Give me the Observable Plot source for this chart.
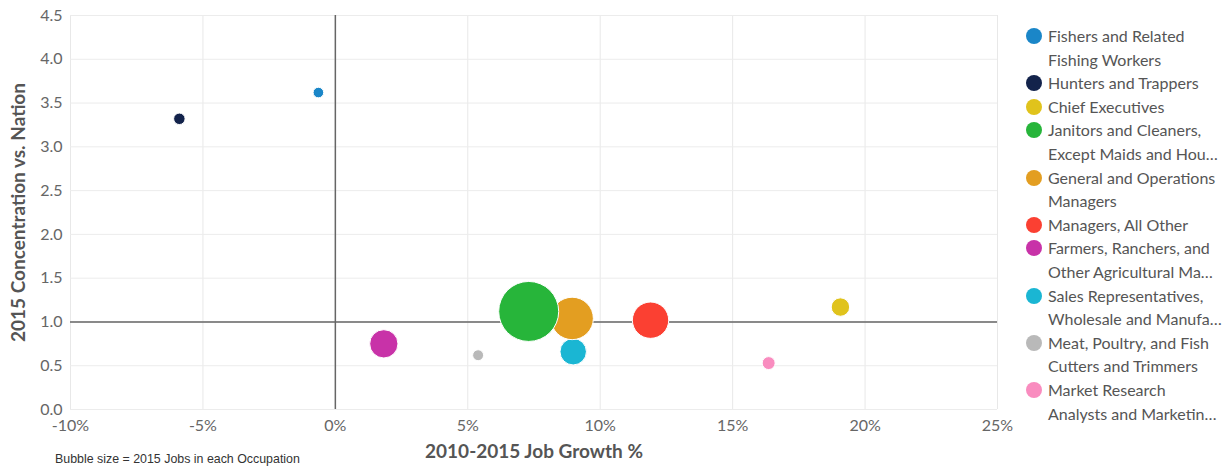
<!DOCTYPE html>
<html>
<head>
<meta charset="utf-8">
<script src="https://cdn.jsdelivr.net/npm/d3@7"></script>
<script src="https://cdn.jsdelivr.net/npm/@observablehq/plot@0.6"></script>
<style>
  html, body { margin: 0; padding: 0; background: #fff; }
  #wrap { position: relative; width: 1228px; height: 469px; overflow: hidden; }
  #chart { position: absolute; left: 0; top: 0; }
  #caption { position: absolute; left: 55px; top: 452px; font-family: "Liberation Sans", Arial, sans-serif; font-size: 12.4px; color: #333; }
  #legend { position: absolute; left: 1025px; top: 24px; font-family: Lato, sans-serif; font-size: 16px; color: #555; }
  .item { position: relative; padding-left: 23px; line-height: 23.6px; white-space: pre; }
  .sw { position: absolute; left: 1px; top: 4px; width: 16px; height: 16px; border-radius: 50%; }
</style>
</head>
<body>
<div id="wrap">
  <div id="chart"></div>
  <div id="legend"></div>
  <div id="caption">Bubble size = 2015 Jobs in each Occupation</div>
</div>
<script>
const occupations = [
  "Fishers and Related\nFishing Workers",
  "Hunters and Trappers",
  "Chief Executives",
  "Janitors and Cleaners,\nExcept Maids and Hou…",
  "General and Operations\nManagers",
  "Managers, All Other",
  "Farmers, Ranchers, and\nOther Agricultural Ma…",
  "Sales Representatives,\nWholesale and Manufa…",
  "Meat, Poultry, and Fish\nCutters and Trimmers",
  "Market Research\nAnalysts and Marketin…"
];
const jobGrowth = [-0.64, -5.89, 19.07, 7.30, 8.94, 11.90, 1.83, 8.98, 5.39, 16.36];
const concentration = [3.62, 3.32, 1.17, 1.12, 1.04, 1.02, 0.75, 0.66, 0.62, 0.53];
const jobs2015 = [280, 330, 850, 9000, 4500, 3300, 2000, 1750, 300, 420];
const colors = ["#1a86c8", "#13234b", "#e0c31c", "#27b53a", "#e39e21", "#fb4032", "#c832a8", "#1ab6d3", "#b9b9b9", "#f98cbf"];
const xTicks = [-10, -5, 0, 5, 10, 15, 20, 25];
const yTicks = [0, 0.5, 1, 1.5, 2, 2.5, 3, 3.5, 4, 4.5];

const data = occupations.map((name, i) => ({
  name, growth: jobGrowth[i], conc: concentration[i], jobs: jobs2015[i], color: colors[i]
})).reverse();

const plot = Plot.plot({
  width: 1025,
  height: 469,
  marginLeft: 70,
  marginRight: 28,
  marginTop: 15,
  marginBottom: 60,
  style: { fontFamily: "Lato, sans-serif", fontSize: "16px", color: "#666", background: "transparent" },
  x: { domain: [-10, 25], ticks: xTicks, tickFormat: d => `${d}%`, label: null },
  y: { domain: [0, 4.5], ticks: yTicks, tickFormat: d => d.toFixed(1), label: null },
  r: { type: "sqrt", domain: [0, 9000], range: [0, 30] },
  marks: [
    Plot.gridX(xTicks, { stroke: "#e8e8e8", strokeOpacity: 1 }),
    Plot.gridY(yTicks, { stroke: "#ececec", strokeOpacity: 1 }),
    Plot.axisX(xTicks, { tickSize: 0, tickPadding: 10, tickFormat: d => `${d}%`, fill: "#666", fontSize: 16 }),
    Plot.axisY(yTicks, { tickSize: 0, tickPadding: 8, tickFormat: d => d.toFixed(1), fill: "#666", fontSize: 16 }),
    Plot.ruleX([0], { stroke: "#666", strokeWidth: 1.5 }),
    Plot.ruleY([1], { stroke: "#666", strokeWidth: 1.5 }),
    Plot.dot(data, { x: "growth", y: "conc", r: "jobs", fill: d => d.color, stroke: "#fff", strokeWidth: 1, fillOpacity: 1, sort: null }),
    Plot.text(["2010-2015 Job Growth %"], { frameAnchor: "bottom", dy: 48, text: d => d, fontWeight: "bold", fontSize: 19, fill: "#555" }),
    Plot.text(["2015 Concentration vs. Nation"], { frameAnchor: "left", textAnchor: "middle", dx: -52, rotate: -90, text: d => d, fontWeight: "bold", fontSize: 19, fill: "#555" })
  ]
});
document.getElementById("chart").appendChild(plot);

const legend = document.getElementById("legend");
occupations.forEach((name, i) => {
  const item = document.createElement("div");
  item.className = "item";
  const sw = document.createElement("span");
  sw.className = "sw";
  sw.style.background = colors[i];
  item.appendChild(sw);
  item.appendChild(document.createTextNode(name));
  legend.appendChild(item);
});
</script>
</body>
</html>
